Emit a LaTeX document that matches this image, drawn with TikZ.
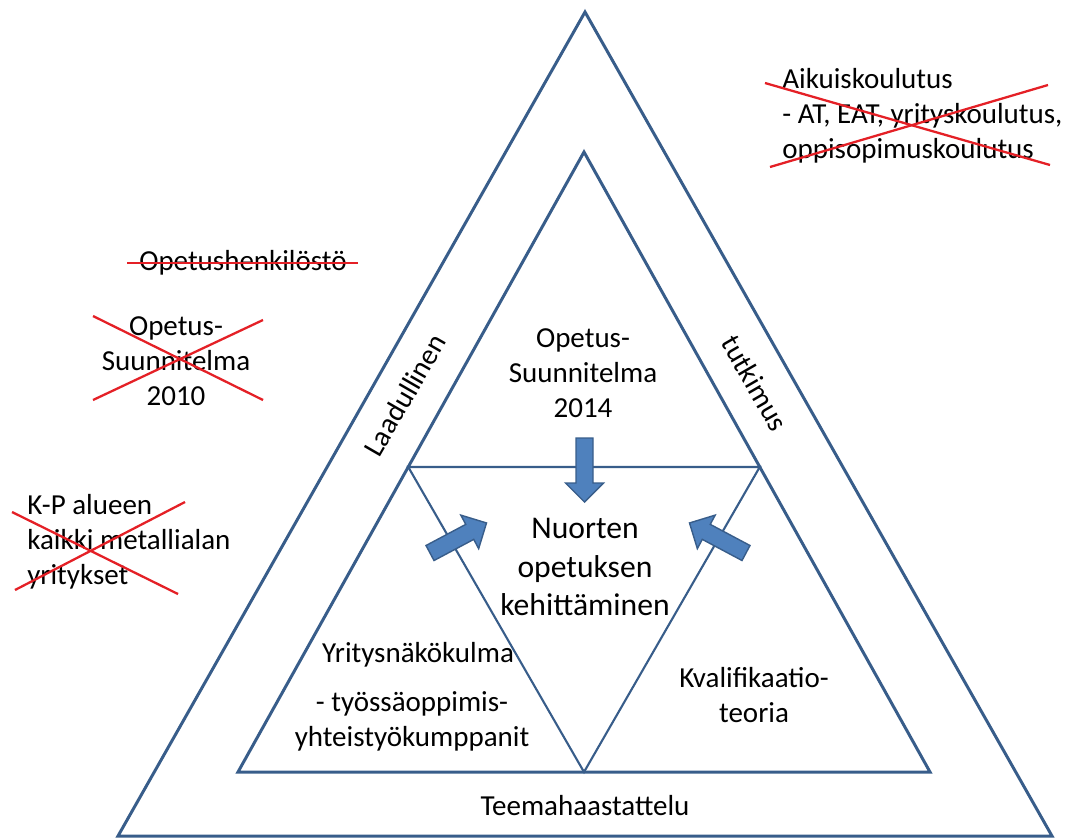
\documentclass[tikz,border=0pt]{standalone}
\usepackage{fontspec}
\setmainfont{Carlito}
\usetikzlibrary{positioning, calc}
\definecolor{lineblue}{RGB}{56,93,138}
\definecolor{arrowblue}{RGB}{79,129,189}
\definecolor{crossred}{RGB}{228,32,38}

\begin{document}
\begin{tikzpicture}[
			x=0.02cm, y=-0.02cm,
			frame/.style={draw=lineblue, line width=1.7pt, line join=miter},
			thinframe/.style={draw=lineblue, line width=1.2pt},
			txt/.style={font=\fontsize{16.5}{20}\selectfont, align=center, inner sep=0pt},
			bigtxt/.style={font=\fontsize{18}{22}\selectfont, align=center, inner sep=0pt},
			cross/.style={draw=crossred, line width=1.3pt},
			blockarrow/.pic={\draw[fill=arrowblue, draw=lineblue, line width=0.8pt]
				(0,-8.5) -- (45,-8.5) -- (45,-19) -- (64,0) -- (45,19) -- (45,8.5) -- (0,8.5) -- cycle;}
		]
			\useasboundingbox (0,0) rectangle (1077,839);

			\coordinate (otop) at (585,12);
			\coordinate (obl) at (118,836);
			\coordinate (obr) at (1052,836);
			\coordinate (itop) at (584,152);
			\coordinate (ibl) at (238,772);
			\coordinate (ibr) at (930,772);
			\coordinate (vl) at ($(itop)!0.508!(ibl)$);
			\coordinate (vr) at ($(itop)!0.508!(ibr)$);
			\coordinate (vb) at (584,772);

			\draw[frame] (otop) -- (obl) -- (obr) -- cycle;
			\draw[frame] (itop) -- (ibl) -- (ibr) -- cycle;
			\draw[thinframe] (vl) -- (vr) -- (vb) -- cycle;

			\pic[rotate=-90] (down) at (584.5,438) {blockarrow};
			\pic[rotate=28] (left) at (430,553) {blockarrow};
			\pic[rotate=152] (right) at (746,553) {blockarrow};

			\node[txt, rotate=60] (qual) at (405,395) {Laadullinen};
			\node[txt, rotate=-60] (research) at (755,383) {tutkimus};
			\node[txt] (plan14) at (583,373) {Opetus-\\Suunnitelma\\2014};
			\node[bigtxt] (goal) at (585,567) {Nuorten\\opetuksen\\kehittäminen};
			\node[txt] (view) at (418,655) {Yritysnäkökulma};
			\node[txt] (partners) at (412,721) {- työssäoppimis-\\yhteistyökumppanit};
			\node[txt] (theory) at (754,695) {Kvalifikaatio-\\teoria};
			\node[txt] (interview) at (585,806) {Teemahaastattelu};

			% crossed out
			\node[txt, anchor=west, align=left] (adult) at (782,116) {Aikuiskoulutus\\- AT, EAT, yrityskoulutus,\\oppisopimuskoulutus};
			\node[txt] (staff) at (243,263) {Opetushenkilöstö};
			\node[txt] (plan10) at (176,361) {Opetus-\\Suunnitelma\\2010};
			\node[txt, anchor=west, align=left] (firms) at (27,542) {K-P alueen\\kaikki metallialan\\yritykset};

			\draw[cross] (765,83) -- (1050,165);
			\draw[cross] (770,167) -- (1048,85);
			\draw[cross] (127,263) -- (358,263);
			\draw[cross] (93,316) -- (263,400);
			\draw[cross] (93,400) -- (263,320);
			\draw[cross] (12,512) -- (178,594);
			\draw[cross] (15,590) -- (185,502);
		\end{tikzpicture}
\end{document}
